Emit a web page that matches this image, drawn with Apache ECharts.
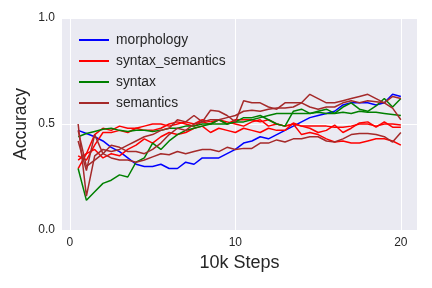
<!DOCTYPE html>
<html><head><meta charset="utf-8">
<script src="https://cdn.jsdelivr.net/npm/echarts@6/dist/echarts.min.js"></script>
<style>html,body{margin:0;padding:0;background:#fff}#c{width:432px;height:288px}</style>
</head><body><div id="c"></div>
<script>
const steps = [0.5,1,1.5,2,2.5,3,3.5,4,4.5,5,5.5,6,6.5,7,7.5,8,8.5,9,9.5,10,10.5,11,11.5,12,12.5,13,13.5,14,14.5,15,15.5,16,16.5,17,17.5,18,18.5,19,19.5,20];
const xTicks = [0, 10, 20];
const yTicks = [0.0, 0.5, 1.0];
const categories = ["morphology", "syntax_semantics", "syntax", "semantics"];

const morphology = [0.47,0.455,0.44,0.42,0.39,0.37,0.34,0.31,0.30,0.30,0.31,0.29,0.29,0.32,0.31,0.34,0.34,0.34,0.36,0.38,0.41,0.42,0.44,0.43,0.45,0.47,0.49,0.51,0.53,0.54,0.55,0.56,0.59,0.60,0.60,0.60,0.59,0.60,0.64,0.63];

const syntaxSemantics1 = [0.29,0.36,0.45,0.48,0.47,0.49,0.48,0.48,0.49,0.50,0.50,0.49,0.50,0.51,0.50,0.52,0.51,0.52,0.50,0.52,0.52,0.52,0.51,0.52,0.50,0.49,0.50,0.49,0.49,0.49,0.49,0.485,0.485,0.49,0.50,0.50,0.49,0.50,0.50,0.495];
const syntaxSemantics2 = [0.33,0.36,0.38,0.34,0.36,0.35,0.38,0.40,0.43,0.41,0.44,0.46,0.45,0.46,0.48,0.49,0.46,0.48,0.47,0.46,0.48,0.47,0.46,0.48,0.47,0.47,0.505,0.49,0.48,0.46,0.47,0.495,0.46,0.48,0.505,0.51,0.485,0.51,0.485,0.485];
const syntaxSemantics3 = [0.35,0.33,0.40,0.46,0.46,0.47,0.46,0.48,0.47,0.47,0.48,0.50,0.51,0.50,0.49,0.51,0.50,0.52,0.51,0.50,0.49,0.51,0.52,0.49,0.50,0.49,0.50,0.45,0.46,0.45,0.43,0.415,0.42,0.41,0.41,0.42,0.43,0.43,0.42,0.40];

const syntax1 = [0.29,0.14,0.18,0.22,0.235,0.26,0.25,0.32,0.34,0.41,0.38,0.42,0.45,0.47,0.48,0.49,0.50,0.52,0.50,0.51,0.53,0.53,0.54,0.52,0.50,0.49,0.56,0.57,0.55,0.56,0.57,0.55,0.58,0.60,0.57,0.56,0.585,0.62,0.58,0.62];
const syntax2 = [0.44,0.455,0.465,0.475,0.48,0.47,0.465,0.47,0.47,0.465,0.47,0.48,0.48,0.49,0.49,0.50,0.50,0.50,0.50,0.51,0.51,0.52,0.53,0.54,0.55,0.55,0.55,0.55,0.55,0.555,0.55,0.55,0.555,0.55,0.56,0.555,0.555,0.55,0.545,0.54];

const semantics1 = [0.50,0.16,0.35,0.38,0.37,0.38,0.40,0.42,0.44,0.45,0.47,0.48,0.52,0.51,0.54,0.51,0.565,0.56,0.54,0.51,0.61,0.60,0.60,0.58,0.57,0.60,0.60,0.60,0.64,0.62,0.60,0.60,0.61,0.62,0.63,0.64,0.62,0.60,0.63,0.62];
const semantics2 = [0.42,0.28,0.45,0.36,0.40,0.39,0.37,0.37,0.36,0.38,0.41,0.45,0.48,0.47,0.50,0.51,0.52,0.52,0.53,0.54,0.56,0.565,0.56,0.57,0.575,0.575,0.58,0.60,0.58,0.57,0.58,0.58,0.60,0.61,0.60,0.61,0.605,0.60,0.575,0.52];
const semantics3 = [0.47,0.30,0.33,0.36,0.34,0.33,0.33,0.32,0.33,0.345,0.36,0.355,0.37,0.36,0.37,0.38,0.38,0.37,0.39,0.38,0.385,0.385,0.41,0.41,0.425,0.415,0.43,0.43,0.44,0.44,0.42,0.415,0.43,0.45,0.455,0.455,0.45,0.44,0.415,0.46];

const runs = [
  {name: categories[0], color: '#0000ff', values: morphology},
  {name: categories[1], color: '#ff0000', values: syntaxSemantics1},
  {name: categories[1], color: '#ff0000', values: syntaxSemantics2},
  {name: categories[1], color: '#ff0000', values: syntaxSemantics3},
  {name: categories[2], color: '#008000', values: syntax1},
  {name: categories[2], color: '#008000', values: syntax2},
  {name: categories[3], color: '#a52a2a', values: semantics1},
  {name: categories[3], color: '#a52a2a', values: semantics2},
  {name: categories[3], color: '#a52a2a', values: semantics3}
];

const FONT = "'Liberation Sans', Arial, sans-serif";
const TXT = '#262626';
const chart = echarts.init(document.getElementById('c'), null, {renderer: 'canvas'});
chart.setOption({
  animation: false,
  backgroundColor: '#ffffff',
  grid: {left: 62, right: 15, top: 18, bottom: 58, show: true, backgroundColor: '#EAEAF2', borderWidth: 0},
  legend: {
    data: categories, orient: 'vertical', left: 74, top: 28,
    itemWidth: 30, itemHeight: 2, itemGap: 7, icon: 'rect',
    textStyle: {fontFamily: FONT, fontSize: 13.8, color: TXT, padding: [0,0,0,2]}
  },
  xAxis: {
    type: 'value', min: -0.475, max: 20.975,
    name: '10k Steps', nameLocation: 'middle', nameGap: 24,
    nameTextStyle: {fontFamily: FONT, fontSize: 18, color: TXT, verticalAlign: 'top'},
    axisLine: {show: false},
    axisLabel: {
      fontFamily: FONT, fontSize: 12, color: TXT, margin: 7,
      customValues: xTicks, formatter: v => String(v)
    },
    splitLine: {show: true, lineStyle: {color: '#ffffff', width: 1}},
    axisTick: {show: false, customValues: xTicks}
  },
  yAxis: {
    type: 'value', min: 0, max: 1, interval: 0.5,
    name: 'Accuracy', nameLocation: 'middle', nameGap: 32, nameMoveOverlap: false,
    nameTextStyle: {fontFamily: FONT, fontSize: 17.5, color: TXT, verticalAlign: 'bottom'},
    axisLine: {show: false}, axisTick: {show: false},
    axisLabel: {fontFamily: FONT, fontSize: 12, color: TXT, margin: 7, formatter: v => v.toFixed(1)},
    splitLine: {show: true, lineStyle: {color: '#ffffff', width: 1}}
  },
  series: runs.map(r => ({
    type: 'line', name: r.name, showSymbol: false, symbol: 'none',
    color: r.color,
    lineStyle: {color: r.color, width: 1.5},
    data: steps.map((s, i) => [s, r.values[i]])
  }))
});
</script>
</body></html>
